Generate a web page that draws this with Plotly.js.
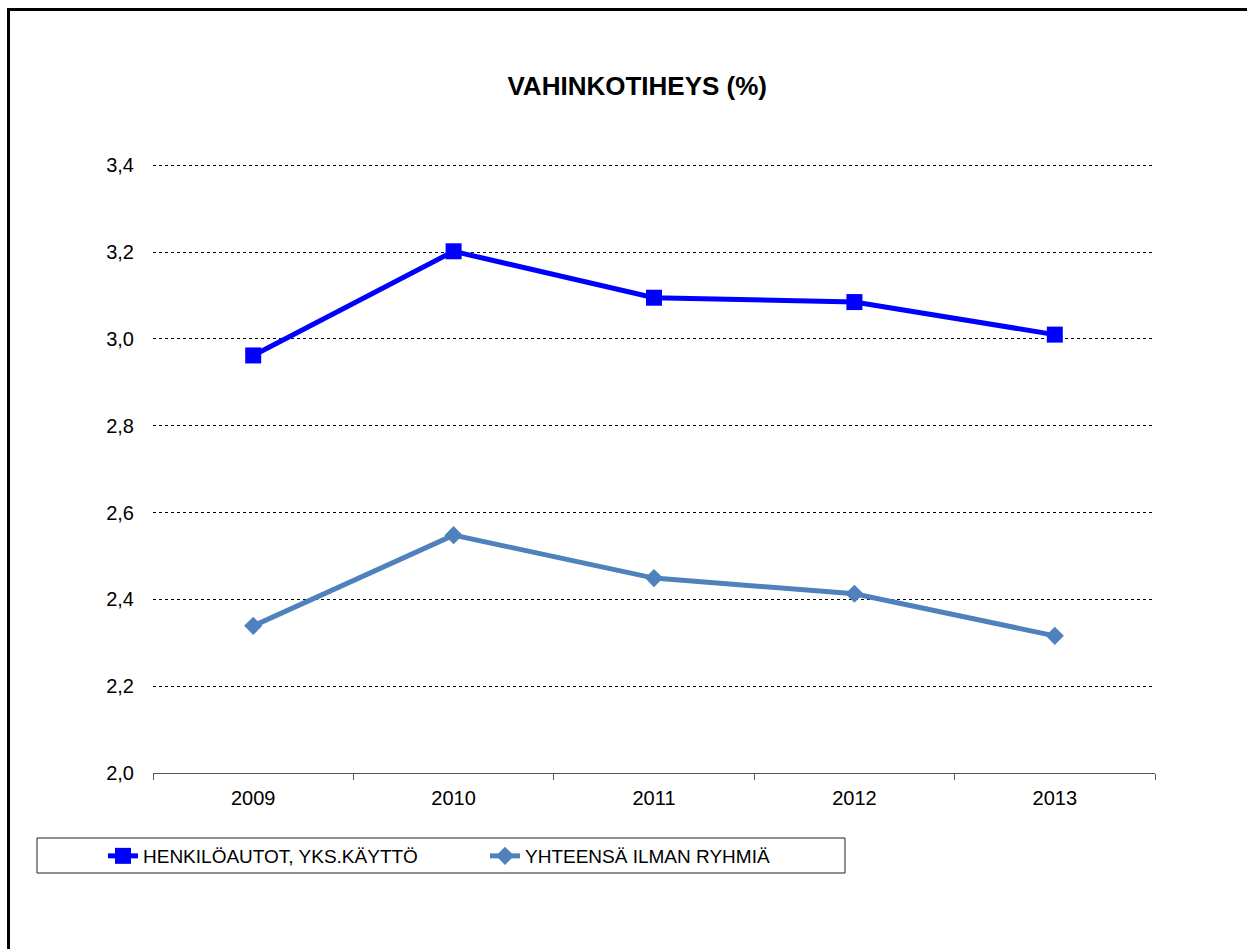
<!DOCTYPE html>
<html>
<head>
<meta charset="utf-8">
<script src="https://cdn.plot.ly/plotly-3.0.1.min.js"></script>
<style>
  html, body { margin: 0; padding: 0; background: #fff; }
  #wrap { position: relative; width: 1247px; height: 949px; }
  #chart { position: absolute; left: 0; top: 0; width: 1247px; height: 949px; }
  #frame { position: absolute; left: 7px; top: 8px; right: 0; bottom: 0;
           border-top: 3px solid #000; border-left: 3px solid #000; pointer-events: none; }
</style>
</head>
<body>
<div id="wrap">
  <div id="chart"></div>
  <div id="frame"></div>
</div>
<script>
const years = ["2009", "2010", "2011", "2012", "2013"];
const seriesNames = ["HENKILÖAUTOT, YKS.KÄYTTÖ", "YHTEENSÄ ILMAN RYHMIÄ"];
const henkiloautot = [2.962, 3.202, 3.095, 3.085, 3.010];
const yhteensa = [2.339, 2.548, 2.449, 2.413, 2.316];
const yTicks = [2.0, 2.2, 2.4, 2.6, 2.8, 3.0, 3.2, 3.4];
const chartTitle = "VAHINKOTIHEYS (%)";

const font = "Liberation Sans, Arial, sans-serif";

const traces = [
  {
    x: years, y: henkiloautot, name: seriesNames[0], type: "scatter", mode: "lines+markers",
    line: { color: "#0000FF", width: 5 },
    marker: { symbol: "square", size: 16, color: "#0000FF" }
  },
  {
    x: years, y: yhteensa, name: seriesNames[1], type: "scatter", mode: "lines+markers",
    line: { color: "#4F81BD", width: 5 },
    marker: { symbol: "diamond", size: 14, color: "#4F81BD" }
  }
];

// plot area: 2.0 at y=773px, 3.4 at y=165px; range extended to 3.41 so the top gridline is drawn
const pxPerUnit = (773 - 165) / 1.4;
const yTop = 3.41;
const marginTop = Math.round(165 - (yTop - 3.4) * pxPerUnit);
const plotH = 773 - marginTop;

const layout = {
  width: 1247, height: 949,
  paper_bgcolor: "rgba(0,0,0,0)", plot_bgcolor: "rgba(0,0,0,0)",
  margin: { l: 153, r: 92, t: marginTop, b: 176 },
  separators: ", ",
  font: { family: font, color: "#000", size: 20 },
  title: {
    text: "<b>" + chartTitle + "</b>",
    font: { family: font, size: 26, color: "#000" },
    x: 0.511, xref: "container", xanchor: "center",
    y: 1 - 86 / 949, yref: "container", yanchor: "middle"
  },
  xaxis: {
    type: "category", range: [-0.5, 4.5],
    tickson: "boundaries", ticks: "outside", ticklen: 6, tickwidth: 1, tickcolor: "#555",
    showline: true, linecolor: "#555", linewidth: 1,
    showgrid: false, zeroline: false,
    tickfont: { family: font, size: 20, color: "#000" },
    ticklabelstandoff: 7,
    fixedrange: true
  },
  yaxis: {
    range: [2.0, yTop], tickvals: yTicks, tickformat: ".1f",
    ticks: "", showline: false, zeroline: false,
    showgrid: true, gridcolor: "#000", gridwidth: 1, griddash: "dot",
    tickfont: { family: font, size: 20, color: "#000" },
    ticklabelstandoff: 18,
    fixedrange: true
  },
  showlegend: true,
  legend: {
    orientation: "h",
    x: (103 - 153) / 1002, xanchor: "left",
    y: -(856 - 773) / plotH, yanchor: "middle",
    bgcolor: "rgba(0,0,0,0)", borderwidth: 0,
    font: { family: font, size: 19, color: "#000" },
    entrywidth: 337, entrywidthmode: "pixels",
    itemclick: false, itemdoubleclick: false
  },
  shapes: [
    {
      type: "rect", xref: "paper", yref: "paper",
      x0: (37 - 153) / 1002, x1: (845 - 153) / 1002,
      y0: -(838 - 773) / plotH, y1: -(873 - 773) / plotH,
      line: { color: "#222", width: 1 }, fillcolor: "rgba(0,0,0,0)"
    }
  ]
};

Plotly.newPlot("chart", traces, layout, { displayModeBar: false, staticPlot: true });
</script>
</body>
</html>
